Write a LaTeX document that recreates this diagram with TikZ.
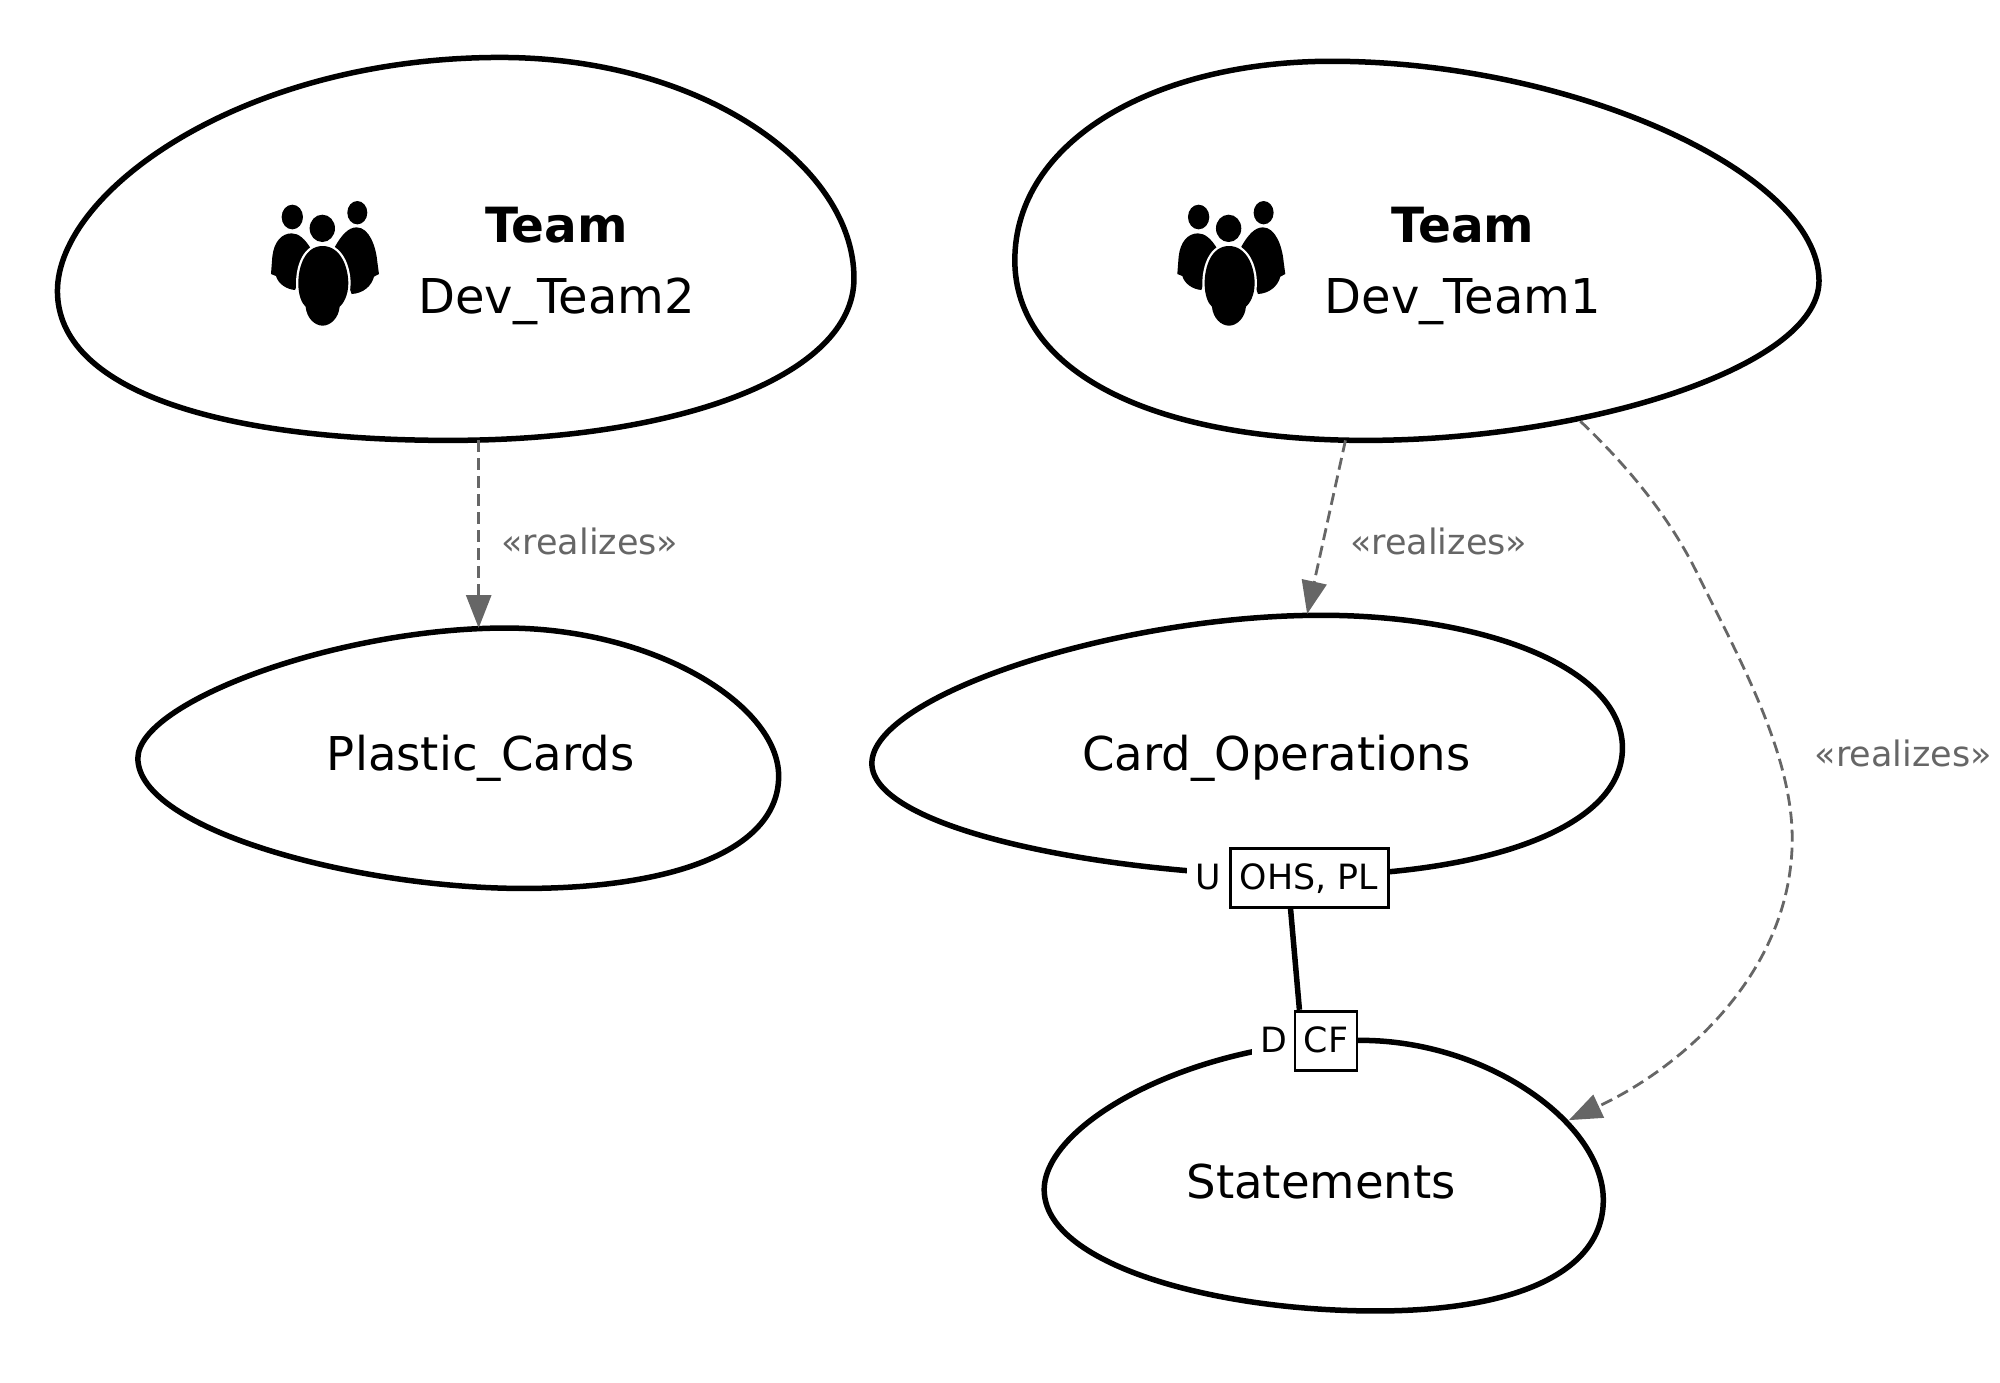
\documentclass[tikz,border=0pt]{standalone}
\usepackage{fontspec}
\setmainfont{DejaVu Sans}
\usetikzlibrary{arrows.meta,calc}
\tikzset{
  blob/.style={draw=black,line width=5.5pt,fill=white},
  bigtext/.style={anchor=base,inner sep=0pt,font=\fontsize{46.6}{54}\selectfont},
  teamtext/.style={anchor=base,inner sep=0pt,font=\fontsize{48}{54}\selectfont},
  boldtext/.style={anchor=base,inner sep=0pt,font=\fontsize{48.5}{54}\selectfont\bfseries},
  relabel/.style={anchor=base,inner sep=0pt,text=relgray,font=\fontsize{35}{42}\selectfont},
  smalllabel/.style={anchor=base,inner xsep=0pt,inner ysep=0pt,font=\fontsize{34.8}{42}\selectfont,text height=41pt},
  sideletter/.style={smalllabel,fill=white,minimum width=43pt,text depth=18pt},
  patternbox/.style={smalllabel,draw=black,line width=2.9pt,fill=white,text depth=18pt},
  realize/.style={draw=relgray,line width=2.8pt,dash pattern=on 12pt off 6pt,-{Triangle[length=33pt,width=25pt,fill=relgray,sep=0pt]}},
  relation/.style={draw=black,line width=5.5pt},
  peopleicon/.pic={
    \begin{scope}[x=0.3333pt,y=-0.3333pt]
      \fill (157,141) ellipse (32 and 37);
      \fill (352,128) ellipse (30 and 35);
      \fill (247,175) ellipse (38 and 41);
      \fill (155,190) .. controls (125,190) and (102,215) .. (97,260) -- (93,312) -- (108,318)
        .. controls (115,342) and (140,358) .. (165,360) -- (215,240)
        .. controls (195,205) and (175,190) .. (155,190) -- cycle;
      \fill (350,172) .. controls (388,172) and (408,230) .. (412,275) -- (417,312) -- (402,320)
        .. controls (395,348) and (370,370) .. (335,372) -- (285,230)
        .. controls (305,195) and (325,172) .. (350,172) -- cycle;
      \path[draw=white,line width=4.6pt] (248,228)
        .. controls (195,228) and (175,290) .. (175,340)
        .. controls (175,375) and (185,400) .. (197,410)
        .. controls (200,445) and (225,467) .. (248,467)
        .. controls (271,467) and (296,445) .. (299,410)
        .. controls (311,400) and (325,375) .. (325,340)
        .. controls (325,290) and (301,228) .. (248,228) -- cycle;
      \fill (248,228)
        .. controls (195,228) and (175,290) .. (175,340)
        .. controls (175,375) and (185,400) .. (197,410)
        .. controls (200,445) and (225,467) .. (248,467)
        .. controls (271,467) and (296,445) .. (299,410)
        .. controls (311,400) and (325,375) .. (325,340)
        .. controls (325,290) and (301,228) .. (248,228) -- cycle;
    \end{scope}
  }
}
\definecolor{relgray}{HTML}{666666}
\begin{document}
\begin{tikzpicture}[x=1.2765pt,y=-1.2765pt]
\useasboundingbox (0,0) rectangle (1566.78,1082.65);
% anchors on the outlines
\coordinate (t2out) at (375,345);
\coordinate (plin) at (375,492);
\coordinate (t1out) at (1054,345);
\coordinate (coin) at (1024,481);
\coordinate (t1out2) at (1238,330);
\coordinate (stin) at (1229,877.5);
% outlines
\path[blob] (45,228) .. controls (45,150) and (190,45) .. (392,45)
  .. controls (550,45) and (669,130) .. (669,218)
  .. controls (669,295) and (530,345) .. (352,345)
  .. controls (170,345) and (45,305) .. (45,228) -- cycle;
\path[blob] (795,204) .. controls (795,110) and (905,48) .. (1043,48)
  .. controls (1230,48) and (1425,135) .. (1425,220)
  .. controls (1425,288) and (1240,345) .. (1070,345)
  .. controls (900,345) and (795,290) .. (795,204) -- cycle;
\path[blob] (108,594) .. controls (108,550) and (265,492) .. (396,492)
  .. controls (512,492) and (610,552) .. (610,608)
  .. controls (610,665) and (530,696) .. (410,696)
  .. controls (280,696) and (108,650) .. (108,594) -- cycle;
\path[blob] (683,598) .. controls (683,545) and (875,482) .. (1035,482)
  .. controls (1160,482) and (1271,522) .. (1271,586)
  .. controls (1271,650) and (1160,686) .. (1020,686)
  .. controls (870,686) and (683,650) .. (683,598) -- cycle;
\path[blob] (818,932) .. controls (818,880) and (935,815) .. (1066,815)
  .. controls (1165,815) and (1256,880) .. (1256,940)
  .. controls (1256,1000) and (1180,1027) .. (1078,1027)
  .. controls (950,1027) and (818,990) .. (818,932) -- cycle;
% icons
\pic at (188,133.2) {peopleicon};
\pic at (898,133.2) {peopleicon};
% texts
\node[boldtext] (team2) at (436,189.6) {Team};
\node[teamtext] (dev2) at (436,245.5) {Dev\_Team2};
\node[boldtext] (team1) at (1146,189.6) {Team};
\node[teamtext] (dev1) at (1146,245.5) {Dev\_Team1};
\node[bigtext] (plastic) at (376.5,603.5) {Plastic\_Cards};
\node[bigtext] (cardops) at (1000,603.5) {Card\_Operations};
\node[bigtext] (statements) at (1035,938.5) {Statements};
% relation boxes
\node[sideletter] (u) at (946.4,697.2) {U};
\node[patternbox,minimum width=158pt] (ohs) at (1025.5,696.8) {OHS, PL};
\node[sideletter] (d) at (997.6,824.3) {D};
\node[patternbox,minimum width=62pt] (cf) at (1038.8,824.3) {CF};
\draw[relation] ($(ohs.south west)!0.385!(ohs.south east)$) -- ($(cf.north west)!0.09!(cf.north east)$);
% realizes
\draw[realize] (t2out) -- (plin);
\draw[realize] (t1out) -- (coin);
\draw[realize] (t1out2) .. controls (1275,365) and (1308,405) .. (1330,450)
  .. controls (1362,515) and (1404,590) .. (1404,657)
  .. controls (1404,760) and (1320,835) .. (stin);
\node[relabel] (r1) at (462,434.5) {«realizes»};
\node[relabel] (r2) at (1127,434.5) {«realizes»};
\node[relabel] (r3) at (1491,600.5) {«realizes»};
\end{tikzpicture}
\end{document}
